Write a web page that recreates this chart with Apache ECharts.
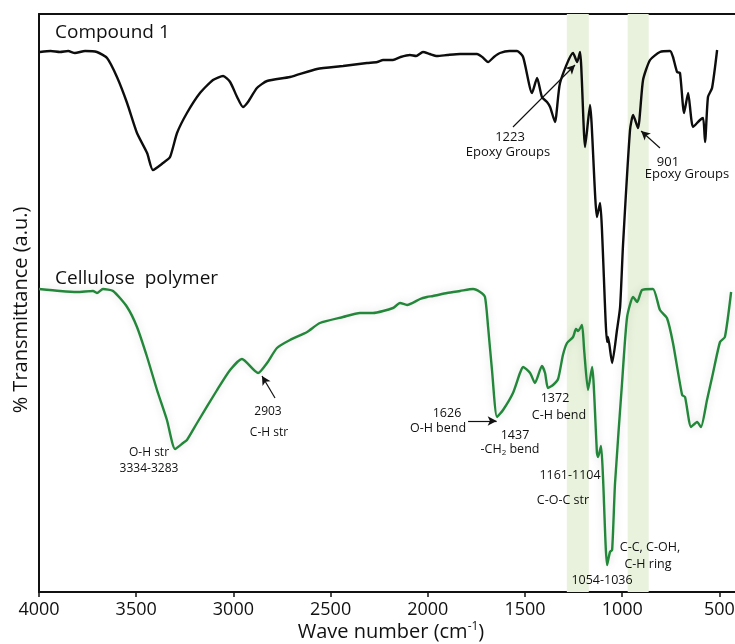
<!DOCTYPE html>
<html>
<head>
<meta charset="utf-8">
<script src="https://cdn.jsdelivr.net/npm/echarts@6/dist/echarts.min.js"></script>
<style>
  html, body { margin: 0; padding: 0; background: #ffffff; }
  #chart { width: 735px; height: 644px; }
</style>
</head>
<body>
<div id="chart"></div>
<script>
// FTIR spectra: wavenumber (cm-1) vs. transmittance in arbitrary units
const compoundWave = [3995, 3940, 3892, 3850, 3815, 3763, 3702, 3650, 3599, 3547, 3496, 3444, 3414, 3362, 3326,
  3290, 3239, 3172, 3105, 3053, 3017, 2981, 2951, 2925, 2879, 2827, 2709, 2570, 2436, 2313, 2260, 2230, 2179,
  2140, 2092, 2060, 2025, 1990, 1953, 1900, 1834, 1747, 1720, 1690, 1660, 1629, 1580, 1541, 1510, 1464, 1438,
  1413, 1387, 1371, 1346, 1320, 1253, 1232, 1217, 1191, 1166, 1130, 1114, 1078, 1073, 1052, 1027, 1011, 996,
  960, 944, 919, 893, 857, 806, 754, 739, 718, 703, 682, 661, 636, 600, 584, 574, 559, 538, 512];
const compoundT = [540, 541, 540, 541, 539, 541, 540, 534, 515, 489, 459, 439, 422, 429, 435,
  459, 479, 499, 512, 516, 510, 495, 485, 490, 504, 511, 515, 523, 526, 529, 530, 532, 532,
  535, 537, 536, 540, 538, 536, 537, 538, 538, 535, 530, 535, 539, 541, 541, 535, 499, 514,
  495, 490, 485, 470, 509, 539, 530, 540, 445, 487, 375, 389, 250, 255, 229, 262, 285, 347,
  462, 477, 464, 512, 532, 540, 541, 535, 520, 519, 479, 499, 465, 472, 474, 450, 495, 504, 542];

const celluloseWave = [4000, 3892, 3805, 3722, 3702, 3671, 3619, 3547, 3496, 3444, 3393, 3342, 3300, 3259, 3239,
  3187, 3084, 3017, 2956, 2873, 2827, 2776, 2709, 2621, 2555, 2436, 2349, 2282, 2179, 2143, 2107, 2040, 2004,
  1973, 1901, 1834, 1767, 1731, 1706, 1690, 1670, 1644, 1613, 1562, 1526, 1510, 1474, 1449, 1413, 1397, 1382,
  1356, 1330, 1305, 1284, 1253, 1238, 1227, 1207, 1196, 1176, 1155, 1130, 1124, 1109, 1099, 1078, 1063, 1052,
  1037, 1001, 975, 944, 923, 898, 842, 806, 770, 739, 692, 677, 646, 615, 595, 564, 533, 497, 472, 440];
const celluloseT = [303, 301, 300, 301, 299, 303, 301, 285, 265, 235, 202, 172, 143, 149, 152,
  169, 202, 222, 233, 219, 229, 244, 252, 260, 269, 275, 279, 279, 284, 289, 287, 293, 295,
  296, 299, 301, 303, 300, 295, 265, 222, 175, 182, 199, 219, 225, 219, 209, 226, 219, 204,
  207, 213, 237, 249, 255, 263, 261, 267, 242, 202, 225, 139, 135, 146, 115, 27, 40, 42,
  109, 209, 275, 295, 290, 302, 303, 282, 274, 249, 197, 195, 165, 170, 165, 192, 219, 250, 255, 300];

// highlighted absorption bands (cm-1)
const bandRanges = [[1285, 1172], [972, 864]];
const xTickValues = [4000, 3500, 3000, 2500, 2000, 1500, 1000, 500];

const FONT = '"Open Sans", "Noto Sans", sans-serif';
const INK = '#111111';

const pair = (xs, ys) => xs.map((x, i) => [x, ys[i]]);

const chart = echarts.init(document.getElementById('chart'), null, { renderer: 'canvas' });

function txt(text, x, y, size, align) {
  return {
    type: 'text', x: x, y: y, z: 50,
    style: {
      text: text, fill: INK, font: size + 'px ' + FONT,
      textAlign: align || 'center', textVerticalAlign: 'middle'
    }
  };
}

const arrowStyle = { color: INK, width: 1.2, type: 'solid' };

const option = {
  animation: false,
  backgroundColor: '#ffffff',
  grid: { left: 39, right: 0, top: 14, bottom: 52, containLabel: false, outerBoundsMode: 'none' },
  xAxis: [{
    type: 'value', inverse: true, min: 420, max: 4000,
    axisLine: { show: true, lineStyle: { color: INK, width: 2 } },
    axisTick: { show: true, length: 5, lineStyle: { color: INK, width: 1.5 }, customValues: xTickValues },
    axisLabel: { show: true, color: INK, fontSize: 18, fontFamily: FONT, margin: 9,
      customValues: xTickValues, formatter: v => String(v) },
    splitLine: { show: false }
  }, {
    type: 'value', inverse: true, min: 420, max: 4000, position: 'top',
    axisLine: { show: true, onZero: false, lineStyle: { color: INK, width: 2 } },
    axisTick: { show: false }, axisLabel: { show: false }, splitLine: { show: false }
  }],
  yAxis: {
    type: 'value', min: 0, max: 578,
    axisLine: { show: true, lineStyle: { color: INK, width: 2 } },
    axisTick: { show: false }, axisLabel: { show: false }, splitLine: { show: false }
  },
  series: [
    {
      name: 'bands', type: 'line', data: [], z: 1,
      markArea: {
        silent: true,
        itemStyle: { color: '#e9f2dc' },
        data: bandRanges.map(r => [{ xAxis: r[0] }, { xAxis: r[1] }])
      }
    },
    {
      name: 'Cellulose polymer', type: 'line', z: 3,
      data: pair(celluloseWave, celluloseT),
      showSymbol: false, smooth: 0.2,
      lineStyle: { color: '#23873a', width: 2.4, shadowColor: 'rgba(0,0,0,0.15)', shadowBlur: 8 },
      markLine: {
        silent: true, symbol: ['none', 'arrow'], symbolSize: [7, 9],
        label: { show: false }, lineStyle: arrowStyle,
        data: [
          [{ coord: [2786, 194] }, { coord: [2853, 216] }],
          [{ coord: [1793, 171] }, { coord: [1646, 171] }]
        ]
      }
    },
    {
      name: 'Compound 1', type: 'line', z: 4,
      data: pair(compoundWave, compoundT),
      showSymbol: false, smooth: 0.2,
      lineStyle: { color: '#0d0d0d', width: 2.4 },
      markLine: {
        silent: true, symbol: ['none', 'arrow'], symbolSize: [7, 9],
        label: { show: false }, lineStyle: arrowStyle,
        data: [
          [{ coord: [1562, 465] }, { coord: [1243, 527] }],
          [{ coord: [806, 444] }, { coord: [903, 461] }]
        ]
      }
    }
  ],
  graphic: [
    txt('Compound 1', 55, 33, 19, 'left'),
    txt('Cellulose  polymer', 55, 279, 19, 'left'),
    txt('1223', 510, 137, 13),
    txt('Epoxy Groups', 508, 152, 13),
    txt('901', 668, 162, 13),
    txt('Epoxy Groups', 687, 174, 13),
    txt('O-H str', 149, 453, 12),
    txt('3334-3283', 149, 469, 12),
    txt('2903', 268, 412, 12),
    txt('C-H str', 269, 433, 12),
    txt('1626', 447, 413, 12.5),
    txt('O-H bend', 438, 428, 12.5),
    txt('1437', 515, 435, 12.5),
    {
      type: 'text', x: 510, y: 449, z: 50,
      style: {
        text: '-CH{s|2} bend', textAlign: 'center', textVerticalAlign: 'middle',
        fill: INK, font: '12.5px ' + FONT,
        rich: { s: { fontSize: 8, fontFamily: FONT, fill: INK, padding: [8, 0, 0, 0] } }
      }
    },
    txt('1372', 555, 398, 12.5),
    txt('C-H bend', 559, 415, 12.5),
    txt('1161-1104', 570, 475, 12.5),
    txt('C-O-C str', 563, 500, 12.5),
    txt('C-C, C-OH,', 650, 547, 12.5),
    txt('C-H ring', 648, 564, 12.5),
    txt('1054-1036', 602, 580, 12.5),
    {
      type: 'text', x: 21, y: 310, rotation: Math.PI / 2, z: 50,
      style: { text: '% Transmittance (a.u.)', fill: INK, font: '20px ' + FONT,
        textAlign: 'center', textVerticalAlign: 'middle' }
    },
    {
      type: 'text', x: 391, y: 632, z: 50,
      style: {
        text: 'Wave number (cm{sup|-1})', fill: INK, font: '20px ' + FONT,
        textAlign: 'center', textVerticalAlign: 'middle',
        rich: { sup: { fontSize: 12, fontFamily: FONT, fill: INK, padding: [0, 0, 10, 0] } }
      }
    }
  ]
};

chart.setOption(option);
</script>
</body>
</html>
